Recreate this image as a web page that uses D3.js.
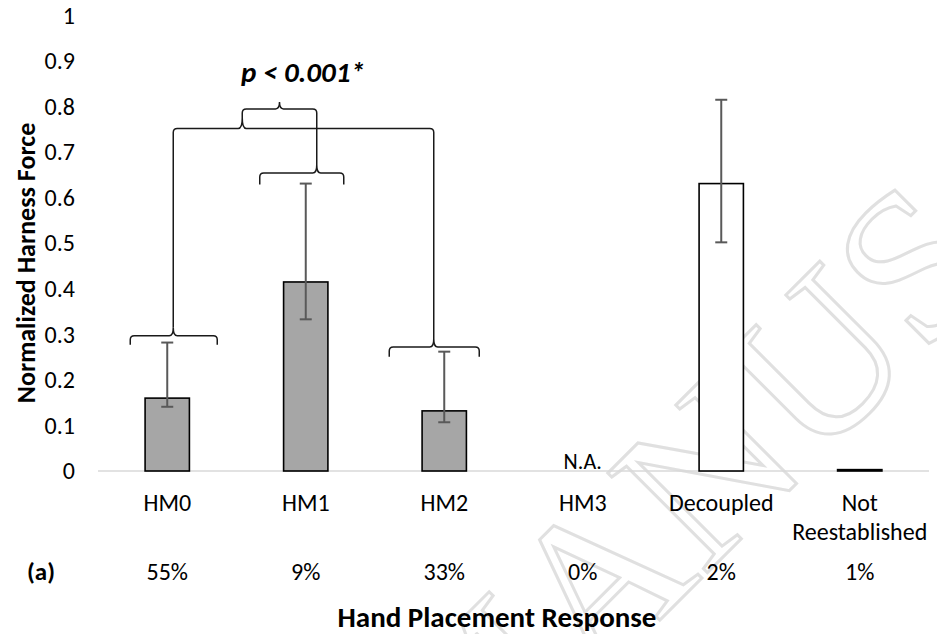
<!DOCTYPE html>
<html>
<head>
<meta charset="utf-8">
<script src="https://cdn.jsdelivr.net/npm/d3@7/dist/d3.min.js"></script>
<style>
  body { margin: 0; background: #fff; }
  text { font-family: Carlito, Calibri, Lato, sans-serif; fill: #000; }
</style>
</head>
<body>
<div id="graph"></div>
<script>
// chart values
const categories = ["HM0", "HM1", "HM2", "HM3", "Decoupled", "Not Reestablished"];
const means = [0.16, 0.415, 0.132, null, 0.631, 0.003];
const errLow = [0.141, 0.333, 0.107, null, 0.502, null];
const errHigh = [0.282, 0.631, 0.262, null, 0.815, null];
const shares = ["55%", "9%", "33%", "0%", "2%", "1%"];
const yTicks = [0, 0.1, 0.2, 0.3, 0.4, 0.5, 0.6, 0.7, 0.8, 0.9, 1];

const width = 937, height = 634;
const plot = {left: 98, right: 929, top: 15.5, bottom: 471};

const svg = d3.select('#graph')
    .append('svg')
    .attr('width', width)
    .attr('height', height);

// faint watermark behind the chart
svg.append('text')
    .attr('transform', 'translate(458,822) rotate(-45)')
    .style('font-family', '"Liberation Serif", serif')
    .style('font-size', '215px')
    .style('fill', 'none')
    .style('stroke', '#e0e0e0')
    .style('stroke-width', 3)
    .text('MANUSCRIPT');

const xScale = d3.scaleBand()
    .domain(categories)
    .range([plot.left, plot.right])
    .paddingInner(0.68)
    .paddingOuter(0.34);

const yScale = d3.scaleLinear()
    .domain([0, 1])
    .range([plot.bottom, plot.top]);

const center = c => xScale(c) + xScale.bandwidth() / 2;

// y axis: labels only
const yAxis = svg.append('g')
    .attr('transform', `translate(${plot.left - 23},0)`)
    .call(d3.axisLeft(yScale).tickValues(yTicks).tickSize(0).tickPadding(0)
        .tickFormat(d => d === 0 || d === 1 ? d3.format('d')(d) : d3.format('.1f')(d)));
yAxis.select('.domain').remove();
yAxis.selectAll('text')
    .style('font-size', '24px')
    .attr('fill', '#000');

// baseline
svg.append('line')
    .attr('x1', plot.left).attr('x2', plot.right)
    .attr('y1', yScale(0)).attr('y2', yScale(0))
    .style('stroke', '#d9d9d9')
    .style('stroke-width', 1.5);

// bars
const barData = categories.map((c, i) => ({cat: c, v: means[i], lo: errLow[i], hi: errHigh[i], i: i}))
    .filter(d => d.v !== null);

svg.selectAll('rect.bar')
    .data(barData)
    .enter()
    .append('rect')
    .attr('class', 'bar')
    .attr('x', d => xScale(d.cat))
    .attr('y', d => yScale(d.v))
    .attr('width', xScale.bandwidth())
    .attr('height', d => Math.max(0.5, yScale(0) - yScale(d.v)))
    .style('fill', d => d.i < 3 ? '#a6a6a6' : '#fff')
    .style('stroke', '#000')
    .style('stroke-width', 1.6);

// error bars
const errData = barData.filter(d => d.lo !== null);
const errG = svg.append('g')
    .style('stroke', '#595959')
    .style('stroke-width', 2);
errG.selectAll('line.stem')
    .data(errData).enter().append('line')
    .attr('x1', d => center(d.cat)).attr('x2', d => center(d.cat))
    .attr('y1', d => yScale(d.lo)).attr('y2', d => yScale(d.hi));
['lo', 'hi'].forEach(k => {
    errG.selectAll('line.cap-' + k)
        .data(errData).enter().append('line')
        .attr('x1', d => center(d.cat) - 6).attr('x2', d => center(d.cat) + 6)
        .attr('y1', d => yScale(d[k])).attr('y2', d => yScale(d[k]));
});

// N.A. label for HM3
svg.append('text')
    .attr('x', center('HM3'))
    .attr('y', yScale(0) - 2)
    .attr('text-anchor', 'middle')
    .style('font-size', '22px')
    .text('N.A.');

// category labels
const catLabels = svg.append('g');
categories.forEach(c => {
    const words = c === 'Not Reestablished' ? ['Not', 'Reestablished'] : [c];
    words.forEach((w, j) => {
        catLabels.append('text')
            .attr('x', center(c))
            .attr('y', 511 + j * 29)
            .attr('text-anchor', 'middle')
            .style('font-size', '24px')
            .text(w);
    });
});

// share of trials under each category
shares.forEach((s, i) => {
    svg.append('text')
        .attr('x', center(categories[i]))
        .attr('y', 580)
        .attr('text-anchor', 'middle')
        .style('font-size', '24px')
        .text(s);
});

svg.append('text')
    .attr('x', 27).attr('y', 580)
    .style('font-size', '25px')
    .style('font-weight', 'bold')
    .text('(a)');

// axis titles
svg.append('text')
    .attr('transform', 'translate(35,263) rotate(-90)')
    .attr('text-anchor', 'middle')
    .style('font-size', '26px')
    .style('font-weight', 'bold')
    .text('Normalized Harness Force');

svg.append('text')
    .attr('x', 497).attr('y', 627)
    .attr('text-anchor', 'middle')
    .style('font-size', '29px')
    .style('font-weight', 'bold')
    .text('Hand Placement Response');

// significance braces
function brace(x1, x2, xc, y, yEndL, yEndR, yTip) {
    const r = 4;
    return `M${x1},${yEndL} L${x1},${y + r} Q${x1},${y} ${x1 + r},${y} L${xc - r},${y} Q${xc},${y} ${xc},${yTip}` +
        ` Q${xc},${y} ${xc + r},${y} L${x2 - r},${y} Q${x2},${y} ${x2},${y + r} L${x2},${yEndR}`;
}

const c0 = center('HM0'), c1 = center('HM1'), c2 = center('HM2');
const tip0 = c0 + 6, tip1 = c1 + 11, tip2 = c2 - 10.5, tipBig = c0 + 75;
const braceG = svg.append('g')
    .style('fill', 'none')
    .style('stroke', '#1a1a1a')
    .style('stroke-width', 1.5);

braceG.append('path').attr('d', brace(c0 - 37, c0 + 50, tip0, yScale(0.297), yScale(0.277), yScale(0.277), yScale(0.297) - 8));
braceG.append('path').attr('d', brace(c2 - 55, c2 + 35, tip2, yScale(0.272), yScale(0.251), yScale(0.251), yScale(0.272) - 8));
braceG.append('path').attr('d', brace(c1 - 46, c1 + 38, tip1, yScale(0.654), yScale(0.629), yScale(0.629), yScale(0.654) - 8));
braceG.append('path').attr('d', brace(tip0, tip2, tipBig, yScale(0.752), yScale(0.297) - 8, yScale(0.272) - 8, yScale(0.775)));
braceG.append('path').attr('d', brace(tipBig, tip1, (tipBig + tip1) / 2, yScale(0.795), yScale(0.775), yScale(0.654) - 8, yScale(0.81)));

svg.append('text')
    .attr('x', 303).attr('y', 82)
    .attr('text-anchor', 'middle')
    .style('font-size', '29px')
    .style('font-weight', 'bold')
    .style('font-style', 'italic')
    .text('p < 0.001*');
</script>
</body>
</html>
